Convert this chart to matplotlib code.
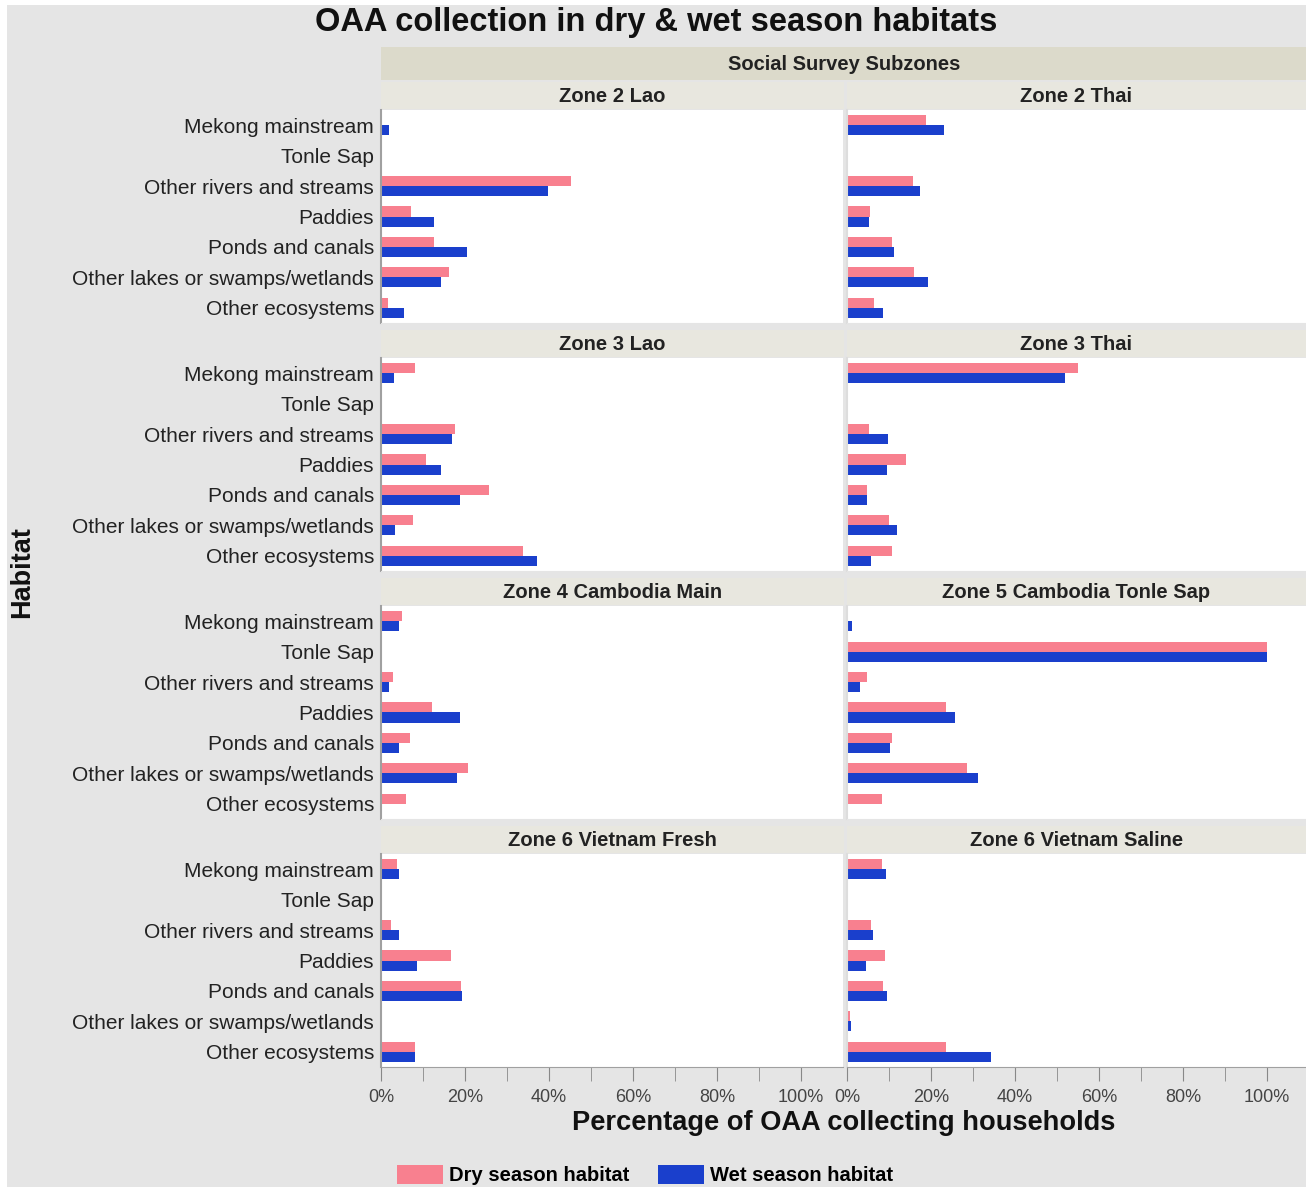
import matplotlib
matplotlib.use('Agg')
import matplotlib.pyplot as plt
import numpy as np
from matplotlib.patches import Rectangle, Patch

plt.rcParams['font.family'] = ['Liberation Sans', 'DejaVu Sans']

# 数据 (% of OAA collecting households)
habitats = ['Mekong mainstream', 'Tonle Sap', 'Other rivers and streams', 'Paddies',
            'Ponds and canals', 'Other lakes or swamps/wetlands', 'Other ecosystems']
zones = ['Zone 2 Lao', 'Zone 2 Thai', 'Zone 3 Lao', 'Zone 3 Thai',
         'Zone 4 Cambodia Main', 'Zone 5 Cambodia Tonle Sap',
         'Zone 6 Vietnam Fresh', 'Zone 6 Vietnam Saline']

z2_lao_dry = [0, 0, 45.2, 7.1, 12.6, 16.2, 1.7]
z2_lao_wet = [2.0, 0, 39.8, 12.6, 20.5, 14.3, 5.5]
z2_thai_dry = [18.8, 0, 15.7, 5.5, 10.6, 15.9, 6.4]
z2_thai_wet = [23.0, 0, 17.3, 5.3, 11.3, 19.3, 8.5]
z3_lao_dry = [8.0, 0, 17.5, 10.8, 25.7, 7.7, 33.9]
z3_lao_wet = [3.0, 0, 17.0, 14.2, 18.9, 3.3, 37.1]
z3_thai_dry = [55.1, 0, 5.3, 14.0, 4.7, 10.0, 10.7]
z3_thai_wet = [51.8, 0, 9.8, 9.6, 4.7, 11.9, 5.8]
z4_camb_dry = [4.9, 0, 2.8, 12.1, 6.8, 20.8, 6.0]
z4_camb_wet = [4.2, 0, 1.8, 18.7, 4.4, 18.1, 0]
z5_tonle_dry = [0, 100, 4.7, 23.6, 10.6, 28.5, 8.4]
z5_tonle_wet = [1.1, 100, 3.1, 25.8, 10.2, 31.3, 0]
z6_fresh_dry = [3.9, 0, 2.3, 16.7, 19.0, 0, 8.2]
z6_fresh_wet = [4.4, 0, 4.2, 8.5, 19.4, 0, 8.2]
z6_saline_dry = [8.4, 0, 5.8, 9.0, 8.6, 0.8, 23.5]
z6_saline_wet = [9.2, 0, 6.1, 4.5, 9.6, 0.9, 34.3]

dry_all = [z2_lao_dry, z2_thai_dry, z3_lao_dry, z3_thai_dry,
           z4_camb_dry, z5_tonle_dry, z6_fresh_dry, z6_saline_dry]
wet_all = [z2_lao_wet, z2_thai_wet, z3_lao_wet, z3_thai_wet,
           z4_camb_wet, z5_tonle_wet, z6_fresh_wet, z6_saline_wet]

dry_color = '#f8808f'
wet_color = '#1a3fcc'

W, H = 1306, 1189
fig = plt.figure(figsize=(W / 100, H / 100), dpi=100, facecolor='white')


def rect(x0, y0, x1, y1):
    # 像素坐标 -> figure 坐标
    return [x0 / W, 1 - y1 / H, (x1 - x0) / W, (y1 - y0) / H]


def fig_box(x0, y0, x1, y1, color):
    r = rect(x0, y0, x1, y1)
    fig.add_artist(Rectangle((r[0], r[1]), r[2], r[3], transform=fig.transFigure,
                             facecolor=color, edgecolor='none', zorder=0))


# 灰色背景
fig_box(7, 5, W, 1187, '#e5e5e5')

col_x = [381, 847]
panel_w = 462
row_top = [110, 358, 606, 854]
panel_h = 213
strip_h = 28

# 顶部 strip
fig_box(381, 47, W, 80, '#dcdacb')
fig.text(844 / W, 1 - 64 / H, 'Social Survey Subzones', ha='center', va='center',
         fontsize=14.5, fontweight='bold', color='#222222')

y = np.arange(len(habitats))
bar_h = 0.33

for k, zone in enumerate(zones):
    r, c = divmod(k, 2)
    x0 = col_x[c]
    y0 = row_top[r]
    # zone strip
    sx1 = 844 if c == 0 else W
    fig_box(x0, y0 - strip_h, sx1, y0 - 1, '#e8e7df')
    fig.text((x0 + sx1) / 2 / W, 1 - (y0 - strip_h / 2) / H, zone,
             ha='center', va='center', fontsize=14.5, fontweight='bold', color='#222222')

    ax = fig.add_axes(rect(x0, y0, x0 + panel_w, y0 + panel_h))
    ax.set_facecolor('white')
    ax.barh(y - bar_h / 2, dry_all[k], height=bar_h, color=dry_color)
    ax.barh(y + bar_h / 2, wet_all[k], height=bar_h, color=wet_color)
    ax.set_xlim(0, 110)
    ax.set_ylim(len(habitats) - 0.5, -0.5)

    for s in ['top', 'right']:
        ax.spines[s].set_visible(False)
    ax.spines['left'].set_color('#a0a0a0' if c == 0 else '#dddddd')
    ax.spines['left'].set_linewidth(1.5)

    ax.set_yticks(y)
    if c == 0:
        ax.set_yticklabels(habitats, fontsize=15, color='#222222')
    else:
        ax.set_yticklabels([])
    ax.tick_params(axis='y', length=0, pad=5)

    ax.set_xticks(np.arange(0, 101, 20))
    ax.set_xticks(np.arange(0, 101, 10), minor=True)
    if r == 3:
        ax.spines['bottom'].set_color('#a0a0a0')
        ax.set_xticklabels([f'{v}%' for v in range(0, 101, 20)], fontsize=13, color='#444444')
        ax.tick_params(axis='x', which='both', length=10, color='#888888', pad=6)
    else:
        ax.spines['bottom'].set_color('#e5e5e5')
        ax.set_xticklabels([])
        ax.tick_params(axis='x', which='both', length=0)

# 标题和坐标轴标签
fig.text(656 / W, 1 - 23 / H, 'OAA collection in dry & wet season habitats',
         ha='center', va='center', fontsize=23.5, fontweight='bold', color='#111111')
fig.text(844 / W, 1 - 1123 / H, 'Percentage of OAA collecting households',
         ha='center', va='center', fontsize=19.6, fontweight='bold', color='#111111')
fig.text(22 / W, 1 - 572 / H, 'Habitat', ha='center', va='center', rotation=90,
         fontsize=19.5, fontweight='bold', color='#111111')

# 图例
handles = [Patch(facecolor=dry_color, label='Dry season habitat'),
           Patch(facecolor=wet_color, label='Wet season habitat')]
fig.legend(handles=handles, loc='center', bbox_to_anchor=(645 / W, 1 - 1175 / H),
           ncol=2, frameon=False, prop={'size': 14.5, 'weight': 'bold'},
           handlelength=2.3, handleheight=1.1, handletextpad=0.3, columnspacing=1.4)

fig.savefig('out.png', dpi=100, facecolor=fig.get_facecolor())
